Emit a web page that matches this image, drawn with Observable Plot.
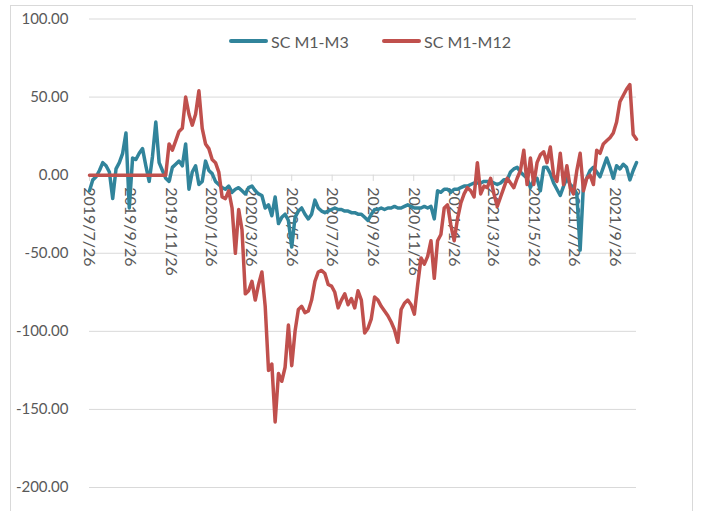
<!DOCTYPE html>
<html><head><meta charset="utf-8">
<script src="https://cdn.jsdelivr.net/npm/d3@7"></script>
<script src="https://cdn.jsdelivr.net/npm/@observablehq/plot@0.6"></script>
<style>
html,body{margin:0;padding:0;background:#fff;}
#wrap{position:relative;width:703px;height:511px;overflow:hidden;font-family:Lato,"Open Sans",sans-serif;}
#frame{position:absolute;left:10px;top:5px;width:683px;height:540px;border:1px solid #d9d9d9;box-sizing:border-box;}
#chart{position:absolute;left:0;top:0;}
.item{position:absolute;top:31px;height:20px;display:flex;align-items:center;font-size:16px;color:#595959;white-space:nowrap;}
.sw{width:39px;height:4px;border-radius:2px;margin-right:3px;}
</style>
</head><body>
<div id="wrap">
  <div id="frame"></div>
  <div id="chart"></div>
  <div class="item" style="left:229px"><span class="sw" style="background:#31849B"></span>SC M1-M3</div>
  <div class="item" style="left:382px"><span class="sw" style="background:#C0504D"></span>SC M1-M12</div>
</div>
<script>
// x categories: observation dates (every 5 days from 2019-07-26 to 2021-10-28)
const startDate = new Date(Date.UTC(2019, 6, 26));
const endDate = new Date(Date.UTC(2021, 9, 29));
const dates = d3.utcDay.range(startDate, endDate, 5);

// SC M1-M3 spread
const m1m3 = [
  -10,-3,-1,3,8,6,2,-15,4,8,
  14,27,-21,11,10,14,17,6,-4,12,
  34,8,3,-2,-4,5,7,9,6,20,
  -9,2,6,-6,-4,9,3,1,-4,-6,
  -8,-9,-7,-11,-9,-8,-10,-12,-8,-7,
  -10,-12,-13,-21,-19,-26,-14,-31,-27,-25,
  -29,-46,-27,-23,-21,-25,-28,-25,-16,-21,
  -23,-24,-23,-22,-21,-22,-22,-23,-23,-24,
  -24,-25,-25,-27,-29,-25,-22,-22,-21,-22,
  -21,-21,-20,-21,-21,-20,-19,-20,-21,-21,
  -21,-20,-21,-20,-28,-10,-11,-9,-9,-11,
  -9,-9,-8,-7,-7,-6,-5,-5,-5,-4,
  -4,-4,-5,-6,-5,-3,-3,2,4,5,
  2,0,-2,-8,-3,-2,-10,5,5,1,
  -5,-9,-13,-7,-2,-6,-8,-12,-48,-6,
  -2,3,5,2,-1,5,11,5,-2,6,
  4,7,5,-3,3,8
];

// SC M1-M12 spread
const m1m12 = [
  0,0,0,0,0,0,0,0,0,0,
  0,0,0,0,0,0,0,0,0,0,
  0,0,0,0,20,16,22,28,30,50,
  39,32,39,54,30,20,17,10,8,2,
  -14,-15,-10,-21,-50,-22,-35,-76,-74,-68,
  -80,-70,-62,-84,-125,-121,-158,-127,-132,-123,
  -96,-122,-100,-86,-84,-88,-87,-80,-68,-62,
  -61,-63,-70,-71,-75,-85,-80,-76,-83,-79,
  -85,-74,-80,-101,-98,-92,-78,-80,-84,-87,
  -90,-94,-99,-107,-86,-82,-80,-83,-89,-70,
  -53,-57,-52,-42,-66,-42,-38,-21,-19,-32,
  -42,-28,-18,-12,-8,-10,-14,8,-12,-7,
  -8,-2,-12,-20,-14,-8,-2,-5,-8,-2,
  3,16,-6,11,-6,8,13,15,8,18,
  0,-4,14,-6,6,-8,-12,3,14,-10,
  -2,0,-6,16,14,20,22,24,27,34,
  47,51,55,58,26,23
];

const xTickLabels = ["2019/7/26","2019/9/26","2019/11/26","2020/1/26","2020/3/26","2020/5/26","2020/7/26",
  "2020/9/26","2020/11/26","2021/1/26","2021/3/26","2021/5/26","2021/7/26","2021/9/26"];
const yTicks = [100, 50, 0, -50, -100, -150, -200];

const parseLabel = s => { const [y, m, d] = s.split("/").map(Number); return new Date(Date.UTC(y, m - 1, d)); };
const tickDates = xTickLabels.map(parseLabel);

const n = Math.min(dates.length, m1m3.length, m1m12.length);
const s1 = d3.range(n).map(i => ({date: dates[i], value: m1m3[i]}));
const s2 = d3.range(n).map(i => ({date: dates[i], value: m1m12[i]}));

const chart = Plot.plot({
  width: 703,
  height: 511,
  marginTop: 18.5,
  marginBottom: 24,
  marginLeft: 89,
  marginRight: 67,
  style: {background: "transparent", fontFamily: "Lato, 'Open Sans', sans-serif", overflow: "visible"},
  x: {type: "utc", domain: [dates[0], dates[n - 1]], axis: null},
  y: {domain: [-200, 100], axis: null},
  marks: [
    Plot.ruleY(yTicks, {stroke: "#d9d9d9", strokeWidth: 1}),
    Plot.axisY(yTicks, {tickSize: 0, tickPadding: 21, tickFormat: d => d.toFixed(2), fontSize: 15, fill: "#595959", label: null}),
    Plot.ruleX(tickDates, {y1: 0, y2: -4, stroke: "#d9d9d9"}),
    Plot.text(tickDates, {x: d => d, y: 0, text: (d, i) => xTickLabels[i], rotate: 90, textAnchor: "start", dy: 12, fontSize: 16, fill: "#595959"}),
    Plot.line(s1, {x: "date", y: "value", stroke: "#31849B", strokeWidth: 3.5, strokeLinejoin: "round", strokeLinecap: "round"}),
    Plot.line(s2, {x: "date", y: "value", stroke: "#C0504D", strokeWidth: 3.5, strokeLinejoin: "round", strokeLinecap: "round"})
  ]
});
document.getElementById("chart").appendChild(chart);
</script>
</body></html>
